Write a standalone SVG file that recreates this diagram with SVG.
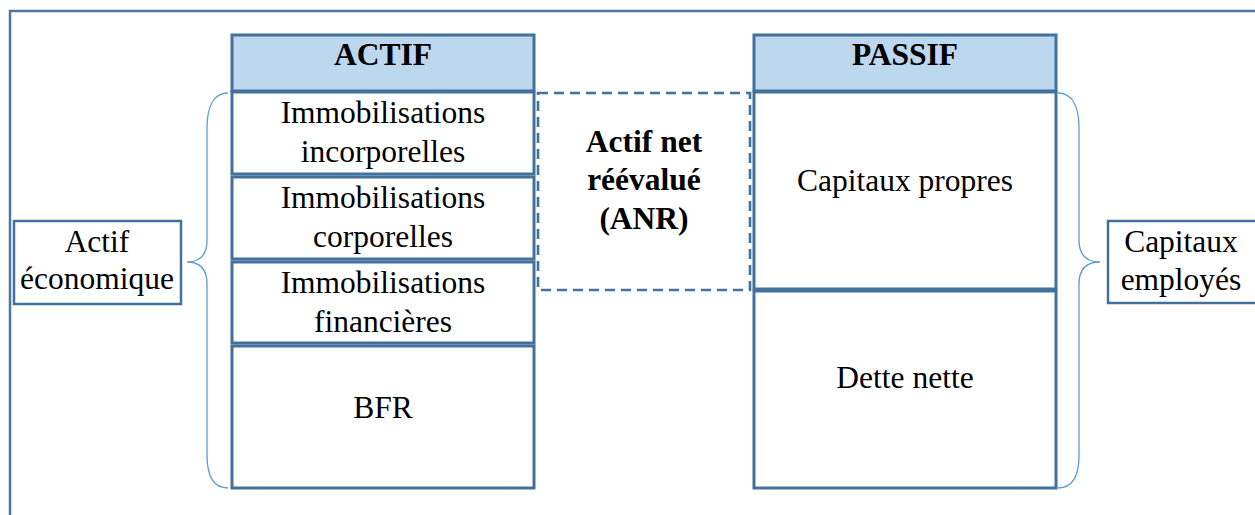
<svg xmlns="http://www.w3.org/2000/svg" width="1255" height="515" viewBox="0 0 1255 515">
<style>
.frame{fill:none;stroke:#4A77A8;stroke-width:2.5}
.cell{fill:#FFFFFF;stroke:#41719C;stroke-width:3}
.head{fill:#BDD7EE;stroke:#41719C;stroke-width:3}
.dash{fill:none;stroke:#41719C;stroke-width:2.6;stroke-dasharray:10 6}
.lbl{fill:#FFFFFF;stroke:#41719C;stroke-width:2.5}
.brace{fill:none;stroke:#5B9BD5;stroke-width:1.3}
text{font-family:"Liberation Serif","Times New Roman",serif;font-size:31.5px;fill:#000;text-anchor:middle}
.b{font-weight:bold}
</style>
<rect class="frame" x="10" y="11" width="1260" height="520"/>
<g id="connectors">
<path class="brace" d="M228,93 C214,93 207,106 207,128 L207,240 C207,255 200,262 187,262 C200,262 207,269 207,284 L207,455 C207,476 214,488 228,488"/>
<path class="brace" d="M1058,93 C1072,93 1079,106 1079,128 L1079,240 C1079,255 1086,262 1100,262 C1086,262 1079,269 1079,284 L1079,455 C1079,476 1072,488 1058,488"/>
</g>
<g id="actif-header"><rect class="head" x="232" y="35" width="302" height="56"/><text class="b" x="383" y="65">ACTIF</text></g>
<g id="immo-incorp"><rect class="cell" x="232" y="92" width="302" height="82"/><text x="383" y="123">Immobilisations</text><text x="383" y="162">incorporelles</text></g>
<g id="immo-corp"><rect class="cell" x="232" y="177" width="302" height="82"/><text x="383" y="208">Immobilisations</text><text x="383" y="247">corporelles</text></g>
<g id="immo-fin"><rect class="cell" x="232" y="262" width="302" height="81"/><text x="383" y="293">Immobilisations</text><text x="383" y="332">financières</text></g>
<g id="bfr"><rect class="cell" x="232" y="346" width="302" height="142"/><text x="383" y="418">BFR</text></g>
<g id="anr"><rect class="dash" x="538" y="93" width="212" height="197"/><text class="b" x="644" y="152">Actif net</text><text class="b" x="644" y="190">réévalué</text><text class="b" x="644" y="229">(ANR)</text></g>
<g id="passif-header"><rect class="head" x="754" y="35" width="302" height="56"/><text class="b" x="905" y="65">PASSIF</text></g>
<g id="capitaux-propres"><rect class="cell" x="754" y="92" width="302" height="197"/><text x="905" y="191">Capitaux propres</text></g>
<g id="dette-nette"><rect class="cell" x="754" y="291" width="302" height="197"/><text x="905" y="388">Dette nette</text></g>
<g id="actif-eco"><rect class="lbl" x="14" y="221" width="167" height="83"/><text x="97" y="252">Actif</text><text x="97" y="289">économique</text></g>
<g id="capitaux-employes"><rect class="lbl" x="1108" y="221" width="160" height="82"/><text x="1181" y="252">Capitaux</text><text x="1181" y="290">employés</text></g>
</svg>
